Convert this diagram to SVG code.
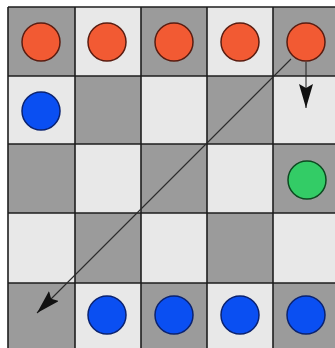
<svg xmlns="http://www.w3.org/2000/svg" width="335" height="348" viewBox="0 0 335 348">
  <style>
    .dark { fill: #9b9b9b; }
    .light { fill: #e8e8e8; }
    .grid { stroke: #1e1e1e; stroke-width: 1.6; fill: none; }
    .red { fill: #f25a33; stroke: #5a1c10; stroke-width: 1.5; }
    .blue { fill: #0a4ff2; stroke: #0a2270; stroke-width: 1.5; }
    .green { fill: #33cc66; stroke: #0c4a20; stroke-width: 1.5; }
    .conn { stroke: #2a2a2a; stroke-width: 1.1; fill: none; }
  </style>
  <defs>
    <marker id="ah" markerUnits="userSpaceOnUse" markerWidth="26" markerHeight="16" refX="24" refY="7" orient="auto">
      <path d="M0,0 L24,7 L0,14 L4,7 z" fill="#111"/>
    </marker>
  </defs>
  <rect x="0" y="0" width="335" height="348" fill="#ffffff"/>
  <g id="board">
    <rect class="dark" x="8" y="7" width="67" height="69"/>
    <rect class="light" x="75" y="7" width="66" height="69"/>
    <rect class="dark" x="141" y="7" width="66" height="69"/>
    <rect class="light" x="207" y="7" width="66" height="69"/>
    <rect class="dark" x="273" y="7" width="62" height="69"/>

    <rect class="light" x="8" y="76" width="67" height="68"/>
    <rect class="dark" x="75" y="76" width="66" height="68"/>
    <rect class="light" x="141" y="76" width="66" height="68"/>
    <rect class="dark" x="207" y="76" width="66" height="68"/>
    <rect class="light" x="273" y="76" width="62" height="68"/>

    <rect class="dark" x="8" y="144" width="67" height="69"/>
    <rect class="light" x="75" y="144" width="66" height="69"/>
    <rect class="dark" x="141" y="144" width="66" height="69"/>
    <rect class="light" x="207" y="144" width="66" height="69"/>
    <rect class="dark" x="273" y="144" width="62" height="69"/>

    <rect class="light" x="8" y="213" width="67" height="70"/>
    <rect class="dark" x="75" y="213" width="66" height="70"/>
    <rect class="light" x="141" y="213" width="66" height="70"/>
    <rect class="dark" x="207" y="213" width="66" height="70"/>
    <rect class="light" x="273" y="213" width="62" height="70"/>

    <rect class="dark" x="8" y="283" width="67" height="65"/>
    <rect class="light" x="75" y="283" width="66" height="65"/>
    <rect class="dark" x="141" y="283" width="66" height="65"/>
    <rect class="light" x="207" y="283" width="66" height="65"/>
    <rect class="dark" x="273" y="283" width="62" height="65"/>

    <path class="grid" d="M8,7 V348 M75,7 V348 M141,7 V348 M207,7 V348 M273,7 V348 M8,7 H335 M8,76 H335 M8,144 H335 M8,213 H335 M8,283 H335"/>
  </g>
  <g id="connectors">
    <line class="conn" x1="291" y1="59" x2="37" y2="313" marker-end="url(#ah)"/>
    <line class="conn" x1="306" y1="62" x2="306" y2="108" marker-end="url(#ah)"/>
  </g>
  <g id="red1"><circle class="red" cx="41" cy="42" r="19"/></g>
  <g id="red2"><circle class="red" cx="107" cy="42" r="19"/></g>
  <g id="red3"><circle class="red" cx="174" cy="42" r="19"/></g>
  <g id="red4"><circle class="red" cx="240" cy="42" r="19"/></g>
  <g id="red5"><circle class="red" cx="306" cy="42" r="19"/></g>
  <g id="blue0"><circle class="blue" cx="41" cy="111" r="19"/></g>
  <g id="green"><circle class="green" cx="307" cy="180" r="19"/></g>
  <g id="blue1"><circle class="blue" cx="107" cy="315" r="19"/></g>
  <g id="blue2"><circle class="blue" cx="174" cy="315" r="19"/></g>
  <g id="blue3"><circle class="blue" cx="240" cy="315" r="19"/></g>
  <g id="blue4"><circle class="blue" cx="306" cy="315" r="19"/></g>
</svg>
